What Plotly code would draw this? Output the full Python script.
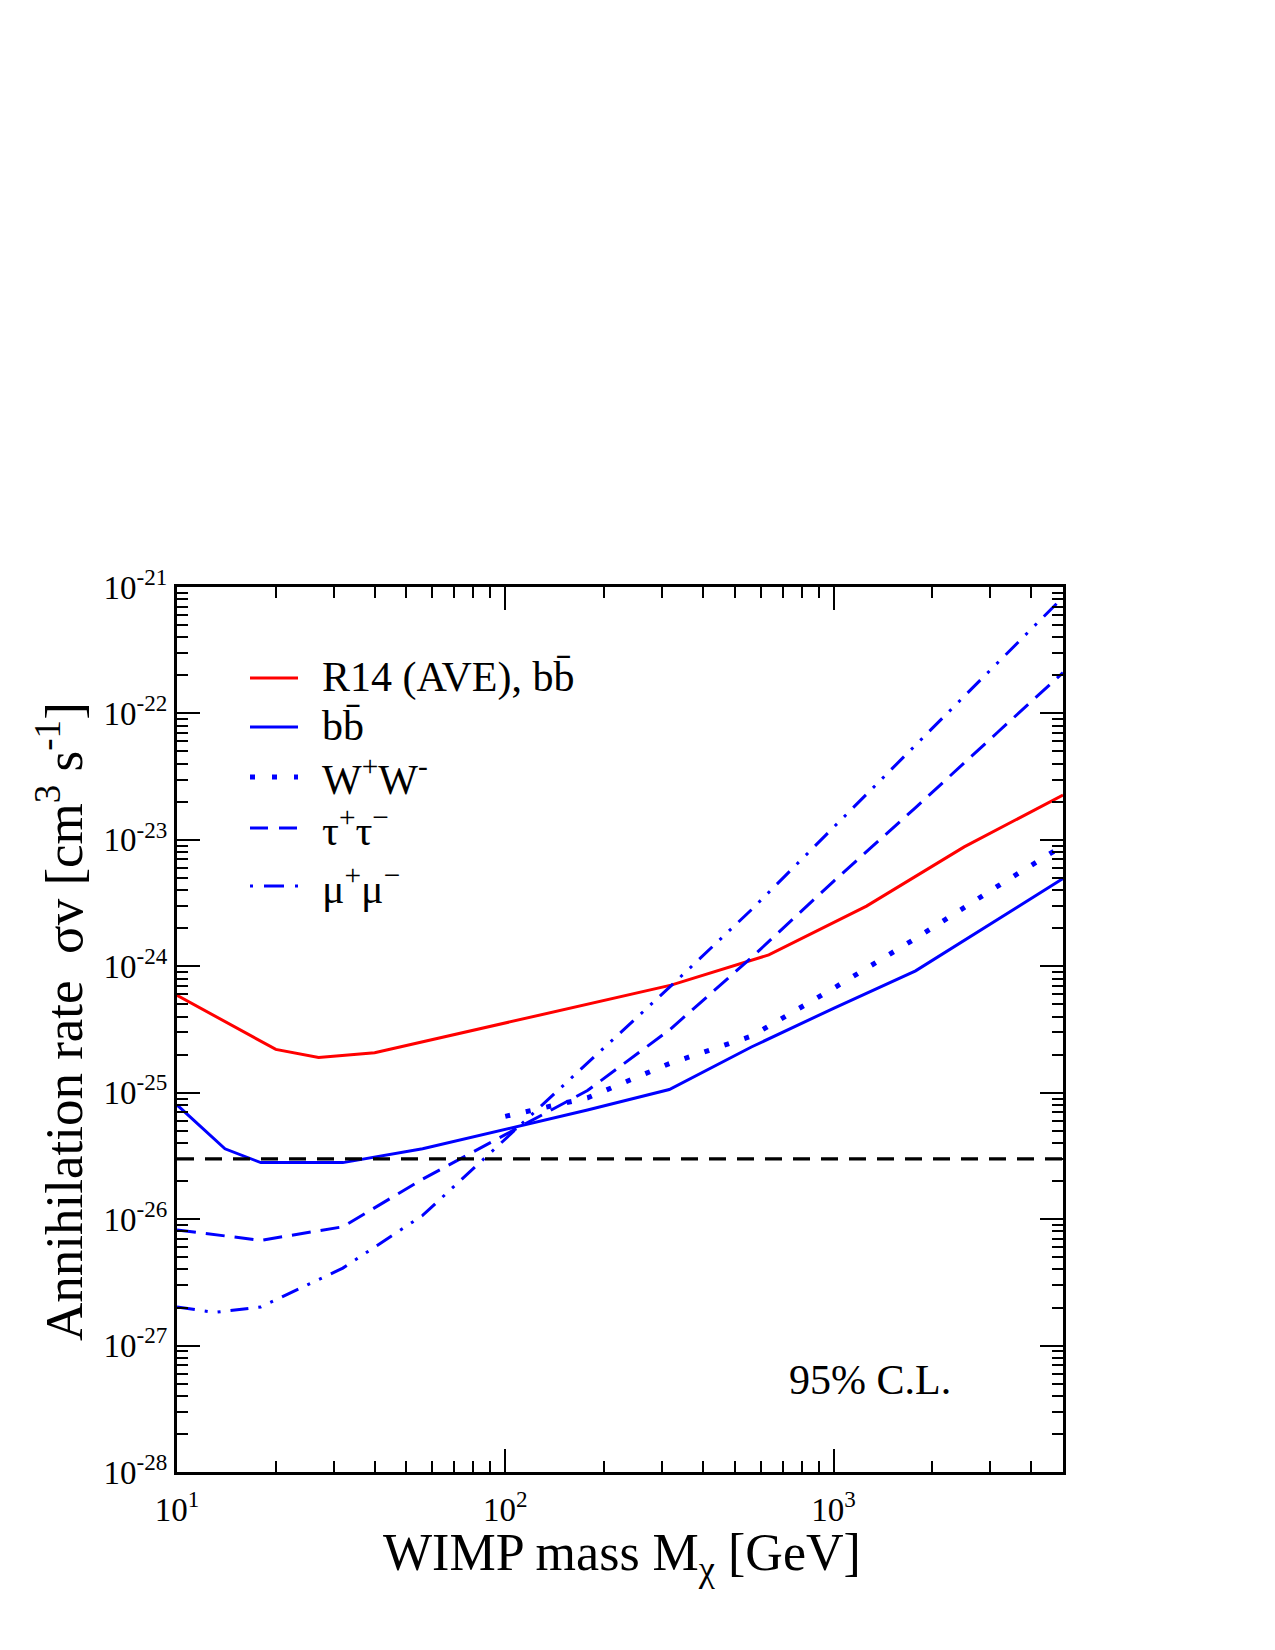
import plotly.graph_objects as go

# ---------------- data ----------------
red_mass = [10, 20, 27, 40, 320, 635, 1260, 2500, 5000]
red_sv = [5.9e-25, 2.2e-25, 1.9e-25, 2.07e-25, 7.1e-25, 1.23e-24, 2.99e-24, 8.8e-24, 2.26e-23]

bb_mass = [10, 14, 18, 32, 56, 100, 178, 316, 562, 1000, 1778, 5000]
bb_sv = [8.0e-26, 3.6e-26, 2.8e-26, 2.8e-26, 3.6e-26, 5.1e-26, 7.3e-26, 1.06e-25, 2.3e-25, 4.65e-25, 9.2e-25, 4.95e-24]

ww_mass = [100, 178, 316, 562, 1000, 1778, 3162, 5000]
ww_sv = [6.5e-26, 9.1e-26, 1.7e-25, 2.8e-25, 6.7e-25, 1.66e-24, 4.3e-24, 9.0e-24]

tau_mass = [10, 18, 32, 56, 100, 178, 316, 562, 1000, 1778, 3162, 5000]
tau_sv = [8.2e-27, 6.8e-27, 8.7e-27, 2.07e-26, 4.66e-26, 1.04e-25, 3.13e-25, 1.17e-24, 4.7e-24, 1.8e-23, 7.1e-23, 2.1e-22]

mu_mass = [10, 13, 18, 32, 56, 100, 178, 316, 562, 1000, 1778, 3162, 5000]
mu_sv = [2.02e-27, 1.83e-27, 2.02e-27, 4.1e-27, 1.07e-26, 4.3e-26, 1.74e-25, 6.8e-25, 2.8e-24, 1.26e-23, 5.6e-23, 2.5e-22, 8.3e-22]

thermal_mass = [10, 5000]
thermal_sv = [3e-26, 3e-26]

legend_labels = ["R14 (AVE), bb\u0304", "bb\u0304", "W<sup>+</sup>W<sup>-</sup>",
                 "\u03c4<sup>+</sup>\u03c4<sup>\u2212</sup>", "\u03bc<sup>+</sup>\u03bc<sup>\u2212</sup>"]

x_tickvals = [10, 100, 1000]
x_ticktext = ["10<sup>1</sup>", "10<sup>2</sup>", "10<sup>3</sup>"]
x_minor = [20, 30, 40, 50, 60, 70, 80, 90, 200, 300, 400, 500, 600, 700, 800, 900, 2000, 3000, 4000]
y_exps = [-28, -27, -26, -25, -24, -23, -22, -21]
y_tickvals = [10.0 ** e for e in y_exps]
y_ticktext = ["10<sup>%d</sup>" % e for e in y_exps]
y_minor = [m * 10.0 ** e for e in y_exps[:-1] for m in range(2, 10)]

# ---------------- layout geometry ----------------
W, H = 1275, 1650
L, R, T, B = 177, 1063, 587, 1472
FONT = "Liberation Serif"

def px(x):
    return (x - L) / (R - L)

def py(y):
    return (B - y) / (B - T)

BLUE = "#0000ff"
RED = "#ff0000"
styles = [
    dict(color=RED, width=3, dash="solid"),
    dict(color=BLUE, width=3, dash="solid"),
    dict(color=BLUE, width=5, dash="5px,16px"),
    dict(color=BLUE, width=3, dash="19px,10px"),
    dict(color=BLUE, width=3, dash="18px,10px,3px,10px,3px,10px"),
]

fig = go.Figure()
series = [(red_mass, red_sv), (bb_mass, bb_sv), (ww_mass, ww_sv), (tau_mass, tau_sv), (mu_mass, mu_sv)]
for (xs, ys), st, lab in zip(series, styles, legend_labels):
    fig.add_trace(go.Scatter(x=xs, y=ys, mode="lines", line=st, name=lab, showlegend=False))
fig.add_trace(go.Scatter(x=thermal_mass, y=thermal_sv, mode="lines",
                         line=dict(color="black", width=3.3, dash="17px,11px"), showlegend=False))

# manual legend
rows_y = [678, 727, 777, 828, 886]
legend_styles = [
    styles[0], styles[1],
    dict(color=BLUE, width=5, dash="5px,17px"),
    dict(color=BLUE, width=3, dash="18px,11px"),
    dict(color=BLUE, width=3, dash="3px,11px,20px,11px,3px,10px"),
]
shapes = []
annotations = []
for yy, st, lab in zip(rows_y, legend_styles, legend_labels):
    shapes.append(dict(type="line", xref="paper", yref="paper", x0=px(250), x1=px(298), y0=py(yy), y1=py(yy),
                       line=st))
    annotations.append(dict(text=lab, xref="paper", yref="paper", x=px(320), y=py(yy - 1), xanchor="left",
                            yanchor="middle", showarrow=False, font=dict(family=FONT, size=42, color="black")))

annotations.append(dict(text="95% C.L.", xref="paper", yref="paper", x=px(787), y=py(1380), xanchor="left",
                        yanchor="middle", showarrow=False, font=dict(family=FONT, size=42, color="black")))
annotations.append(dict(text="WIMP mass M<sub>\u03c7</sub> [GeV]", xref="paper", yref="paper", x=px(622), y=py(1522),
                        xanchor="center", yanchor="top", showarrow=False, font=dict(family=FONT, size=52, color="black")))
annotations.append(dict(text="Annihilation rate  \u03c3v [cm<sup>3</sup> s<sup>-1</sup>]", xref="paper", yref="paper",
                        x=px(60), y=py(1022), xanchor="center", yanchor="middle", textangle=-90, showarrow=False,
                        font=dict(family=FONT, size=53, color="black")))

axis_common = dict(showline=True, linewidth=3, linecolor="black", mirror="allticks", ticks="inside",
                   ticklen=23, tickwidth=2, tickcolor="black", showgrid=False, zeroline=False,
                   tickfont=dict(family=FONT, size=33, color="black"), tickmode="array")

fig.update_layout(
    width=W, height=H,
    margin=dict(l=L, r=W - R, t=T, b=H - B),
    paper_bgcolor="white", plot_bgcolor="white",
    xaxis=dict(type="log", range=[1, 3.69897], tickvals=x_tickvals, ticktext=x_ticktext,
               ticklabelstandoff=6,
               minor=dict(ticks="inside", ticklen=11, tickwidth=2, tickcolor="black", tickmode="array", tickvals=x_minor),
               **axis_common),
    yaxis=dict(type="log", range=[-28, -21], tickvals=y_tickvals, ticktext=y_ticktext,
               minor=dict(ticks="inside", ticklen=11, tickwidth=2, tickcolor="black", tickmode="array", tickvals=y_minor),
               **axis_common),
    shapes=shapes,
    annotations=annotations,
    showlegend=False,
)

fig.write_html("out.html")
